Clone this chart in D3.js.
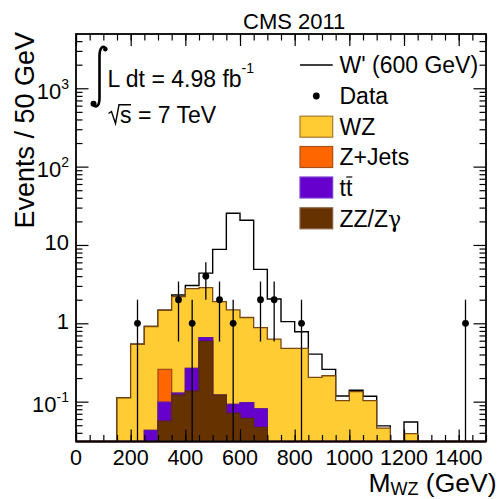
<!DOCTYPE html>
<html><head><meta charset="utf-8">
<script src="https://cdn.jsdelivr.net/npm/d3@7"></script>
<style>body{margin:0;background:#fff}text{font-family:"Liberation Sans",Arial,Helvetica,sans-serif;fill:#000}</style>
</head><body><svg id="c" width="499" height="499"></svg>
<script>
// ---- data ----
const binLow = d3.range(0, 1500, 50);
const binWidth = 50;
const wz     = [0,0,0,0.112,0.54,0.867,1.21,2.07,2.50,2.195,1.77,1.39,1.09,0.80,0.63,0.48,0.48,0.204,0.214,0.103,0.134,0.103,0.046,0,0.039,0,0,0,0,0];
const zjets  = [0,0,0,0,0,0,0.16,0,0,0,0,0,0,0,0,0,0,0,0,0,0,0,0,0,0,0,0,0,0,0];
const ttbar  = [0,0,0,0,0,0.043,0.042,0.007,0.13,0.066,0,0.021,0.036,0.034,0,0,0,0,0,0,0,0,0,0,0,0,0,0,0,0];
const zz     = [0,0,0,0,0,0,0.0565,0.121,0.136,0.589,0.121,0.071,0.061,0.047,0,0,0,0,0,0,0,0,0,0,0,0,0,0,0,0];
const wprime = [0,0,0,0,0,0,0,0.1,0.27,1.52,6.9,23.9,19.5,4.0,1.41,0.57,0.30,0.20,0.044,0.015,0.006,0.014,0.003,0,0.016,0,0,0,0,0];
const dataMass   = [225,375,425,475,525,575,675,725,825,1425];
const dataCounts = [1,2,1,4,2,1,2,2,1,1];
const xTickValues = [0,200,400,600,800,1000,1200,1400];
const yTickValues = [0.1,1,10,100,1000];
const yTickBase = ["10","1","10","10","10"];
const yTickExp  = ["-1","","","2","3"];
const legendLabels = ["W' (600 GeV)","Data","WZ","Z+Jets","tt","ZZ/Z"];

const fills   = {zz:"#663300", tt:"#6600cc", zj:"#ff6600", wz:"#ffcc33"};
const strokes = {zz:"#5a2d00", tt:"#5a14b0", zj:"#a84a10", wz:"#7a4810"};

// ---- layout ----
const svg = d3.select("#c");
const L = 76, R = 486, T = 34, B = 441.5;
const x = d3.scaleLinear().domain([0,1500]).range([L,R]);
const y = d3.scaleLog().domain([0.031,4930]).range([B,T]).clamp(true);
const yv = v => v > 0 ? y(v) : B;

const rows = binLow.map((b,i) => ({lo:b, zz:zz[i], tt:ttbar[i], zj:zjets[i], wz:wz[i], wp:wprime[i]}));
const stack = d3.stack().keys(["zz","tt","zj","wz","wp"])(rows);

function stepPts(layer){
  const pts = [];
  layer.forEach((d,i) => {
    const top = d[1];
    pts.push([rows[i].lo, top]); pts.push([rows[i].lo + binWidth, top]);
  });
  return pts;
}
const area = d3.area().x(p => x(p[0])).y0(B).y1(p => yv(p[1]));
const line = d3.line().x(p => x(p[0])).y(p => yv(p[1]));

const plot = svg.append("g");
// W' total line drawn first (stack drawn over it)
plot.append("path").attr("d", line(stepPts(stack[4]))).attr("fill","none")
  .attr("stroke","#000").attr("stroke-width",1.4);
// stacked backgrounds, topmost cumulative first
[[3,"wz"],[2,"zj"],[1,"tt"],[0,"zz"]].forEach(([k,key]) => {
  plot.append("path").attr("d", area(stepPts(stack[k]))).attr("fill", fills[key])
    .attr("stroke", strokes[key]).attr("stroke-width",1.3).attr("stroke-linejoin","miter");
});

// data points
const dg = svg.append("g");
dataMass.forEach((m,i) => {
  const n = dataCounts[i], e = Math.sqrt(n);
  dg.append("line").attr("x1",x(m)).attr("x2",x(m)).attr("y1",yv(n+e)).attr("y2",yv(n-e))
    .attr("stroke","#000").attr("stroke-width",1.3);
  dg.append("circle").attr("cx",x(m)).attr("cy",y(n)).attr("r",3.4).attr("fill","#000");
});

// ---- axes (ticks inside) ----
const minorY = [];
for (let k=-2;k<=3;k++) for (let m=2;m<=9;m++){ const v=m*Math.pow(10,k); if (v>=0.031 && v<=4930) minorY.push(v); }
const minorX = d3.range(0,1501,50);
function axis(gen, tr, vals, size){
  const g = svg.append("g").attr("transform",tr)
    .call(gen.tickValues(vals).tickSize(size).tickFormat(""));
  g.select(".domain").remove();
  g.selectAll("line").attr("stroke","#000").attr("stroke-width",1.2);
  return g;
}
axis(d3.axisBottom(x), `translate(0,${B})`, minorX, -6.5);
axis(d3.axisBottom(x), `translate(0,${B})`, xTickValues, -12);
axis(d3.axisTop(x), `translate(0,${T})`, minorX, -6.5);
axis(d3.axisTop(x), `translate(0,${T})`, xTickValues, -12);
axis(d3.axisLeft(y), `translate(${L},0)`, minorY, -6.5);
axis(d3.axisLeft(y), `translate(${L},0)`, yTickValues, -12.5);
axis(d3.axisRight(y), `translate(${R},0)`, minorY, -6.5);
axis(d3.axisRight(y), `translate(${R},0)`, yTickValues, -12.5);

svg.append("rect").attr("x",L).attr("y",T).attr("width",R-L).attr("height",B-T)
  .attr("fill","none").attr("stroke","#000").attr("stroke-width",1.8);

// tick labels
xTickValues.forEach(v => svg.append("text").attr("x",x(v)).attr("y",464.8)
  .attr("text-anchor","middle").attr("font-size",21.5).text(v));
yTickValues.forEach((v,i) => {
  const hasExp = yTickExp[i] !== "";
  const t = svg.append("text").attr("x",69).attr("y",y(v) + (hasExp ? 10.8 : 5.5))
    .attr("text-anchor","end").attr("font-size",22);
  t.append("tspan").text(yTickBase[i]);
  if (hasExp) t.append("tspan").attr("dy",-10).attr("font-size",14).text(yTickExp[i]);
});

// axis titles
const xt = svg.append("text").attr("x",496.5).attr("y",491.5).attr("text-anchor","end").attr("font-size",26.5);
xt.append("tspan").text("M");
xt.append("tspan").attr("font-size",18).attr("dy",3.5).text("WZ");
xt.append("tspan").attr("dy",-3.5).text(" (GeV)");
svg.append("text").attr("transform","translate(33.5,32) rotate(-90)").attr("text-anchor","end")
  .attr("font-size",27).text("Events / 50 GeV");

// title
svg.append("text").attr("x",243).attr("y",29.3).attr("font-size",22).text("CMS 2011");

// lumi / energy
svg.append("path").attr("d","M106.5 49 C103.5 44.5 99.5 47 99.5 56 L99.5 98 C99.5 107 95.5 108 92.5 104.5")
  .attr("fill","none").attr("stroke","#000").attr("stroke-width",2.6);
svg.append("circle").attr("cx",105.3).attr("cy",49.3).attr("r",2.2).attr("fill","#000");
svg.append("circle").attr("cx",93.5).attr("cy",103.8).attr("r",3).attr("fill","#000");
const lt = svg.append("text").attr("x",107.5).attr("y",86.7).attr("font-size",23);
lt.append("tspan").text("L dt = 4.98 fb");
lt.append("tspan").attr("dy",-14).attr("font-size",14).text("-1");
svg.append("path").attr("d","M108.5 113.5 L111.5 111.5 L115.5 123.5 L119 104.8 L131 104.8")
  .attr("fill","none").attr("stroke","#000").attr("stroke-width",1.4);
svg.append("text").attr("x",120).attr("y",123.3).attr("font-size",23).text("s = 7 TeV");

// legend
const rowY = [65, 96, 126.7, 157, 187.5, 218.3];
const lg = svg.append("g");
lg.append("line").attr("x1",300).attr("x2",332.7).attr("y1",rowY[0]).attr("y2",rowY[0]).attr("stroke","#000").attr("stroke-width",1.3);
lg.append("circle").attr("cx",316.3).attr("cy",rowY[1]).attr("r",3.4).attr("fill","#000");
const boxKeys = ["wz","zj","tt","zz"];
const boxBorder = {wz:"#a7782a", zj:"#a8501a", tt:"#7a3fd0", zz:"#8a6040"};
boxKeys.forEach((k,i) => lg.append("rect").attr("x",300).attr("y",rowY[i+2]-10.5).attr("width",32.7).attr("height",21)
  .attr("fill",fills[k]).attr("stroke",boxBorder[k]).attr("stroke-width",1.2));
legendLabels.forEach((s,i) => {
  const t = lg.append("text").attr("x",339.5).attr("y",rowY[i]+8.3).attr("font-size",23).text(s);
  if (i === 5) t.append("tspan").style("font-family","'DejaVu Serif','DejaVu Sans',serif").attr("font-size",22).text("\u03b3");
});
// bar over second t of "tt"
lg.append("line").attr("x1",346.3).attr("x2",352.3).attr("y1",rowY[4]-10.5).attr("y2",rowY[4]-10.5).attr("stroke","#000").attr("stroke-width",1.2);
</script></body></html>
